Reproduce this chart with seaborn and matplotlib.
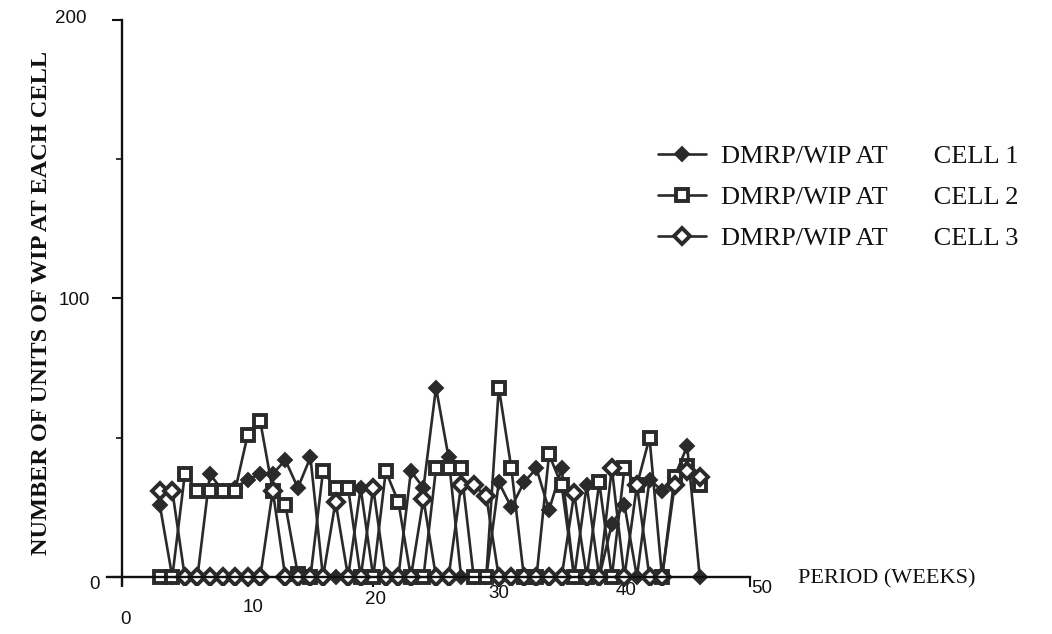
import numpy as np
import pandas as pd
import matplotlib
matplotlib.use("Agg")
import matplotlib.pyplot as plt
from matplotlib.transforms import ScaledTranslation
import seaborn as sns

# Weekly WIP counts for the three cells (DMRP policy)
weeks = list(range(3, 47))
cell1 = [26, 0, 0, 0, 37, 31, 32, 35, 37, 37,
         42, 32, 43, 0, 0, 0, 32, 0, 0, 0,
         38, 32, 68, 43, 0, 0, 0, 34, 25, 34,
         39, 24, 39, 0, 33, 0, 19, 26, 0, 35,
         31, 36, 47, 0]
cell2 = [0, 0, 37, 31, 31, 31, 31, 51, 56, 31,
         26, 1, 0, 38, 32, 32, 0, 0, 38, 27,
         0, 0, 39, 39, 39, 0, 0, 68, 39, 0,
         0, 44, 33, 0, 0, 34, 0, 39, 33, 50,
         0, 36, 40, 33]
cell3 = [31, 31, 0, 0, 0, 0, 0, 0, 0, 31,
         0, 0, 0, 0, 27, 0, 0, 32, 0, 0,
         0, 28, 0, 0, 33, 33, 29, 0, 0, 0,
         0, 0, 0, 30, 0, 0, 39, 0, 33, 0,
         0, 33, 38, 36]
series_labels = ["DMRP/WIP AT       CELL 1",
                 "DMRP/WIP AT       CELL 2",
                 "DMRP/WIP AT       CELL 3"]
x_ticks = [0, 10, 20, 30, 40, 50]
y_ticks = [0, 100, 200]

df = pd.DataFrame({
    "week": weeks * 3,
    "wip": cell1 + cell2 + cell3,
    "series": [series_labels[0]] * len(weeks)
              + [series_labels[1]] * len(weeks)
              + [series_labels[2]] * len(weeks),
})

sns.set_style("ticks")
plt.rcParams["font.family"] = ["Liberation Serif", "DejaVu Serif"]

ink = "#2a2a2a"
styles = {
    series_labels[0]: dict(marker="D", mfc=ink, mec=ink, mew=1.4, ms=7.5),
    series_labels[1]: dict(marker="s", mfc="white", mec=ink, mew=2.8, ms=8.5),
    series_labels[2]: dict(marker="D", mfc="white", mec=ink, mew=2.8, ms=8.0),
}

fig = plt.figure(figsize=(10.52, 6.34), dpi=100)
ax = fig.add_axes([0.1017, 0.0767, 0.6112, 0.8918])

for name in series_labels:
    sub = df[df["series"] == name]
    sns.lineplot(data=sub, x="week", y="wip", ax=ax, color=ink,
                 linewidth=1.9, legend=False, **styles[name])

for line, name in zip(ax.get_lines(), series_labels):
    line.set_label(name)

ax.set_xlim(-1.2, 50)
ax.set_ylim(-3, 200)
ax.spines["left"].set_position(("data", 0))
ax.spines["bottom"].set_position(("data", 0))
for side in ("top", "right"):
    ax.spines[side].set_visible(False)
for side in ("left", "bottom"):
    ax.spines[side].set_color("#111111")
    ax.spines[side].set_linewidth(1.7)

ax.set_xticks(x_ticks)
ax.set_xticklabels([str(t) for t in x_ticks])
ax.set_yticks(y_ticks)
ax.set_yticklabels([str(t) for t in y_ticks])
ax.set_yticks([50, 150], minor=True)
ax.tick_params(axis="both", which="major", direction="out", length=7,
               width=1.5, color="#111111", pad=0, labelsize=13.5,
               labelcolor="#111111")
ax.tick_params(axis="y", which="minor", direction="out", length=4,
               width=1.2, color="#111111")


def shift(artist, dx, dy):
    """Move a text artist by (dx, dy) pixels; positive dy moves it down."""
    artist.set_transform(artist.get_transform()
                         + ScaledTranslation(dx / fig.dpi, -dy / fig.dpi,
                                             fig.dpi_scale_trans))


# Staggered tick-label placement (pixel offsets)
x_off = [(3, 33), (5, 21), (2, 13), (0, 7), (2, 4), (12, 2)]
for lbl, (dx, dy) in zip(ax.get_xticklabels(), x_off):
    lbl.set_fontfamily(["Liberation Sans", "DejaVu Sans"])
    lbl.set_va("center")
    shift(lbl, dx, dy)
y_off = [(-13, 5), (-22, 0), (-26, -3)]
for lbl, (dx, dy) in zip(ax.get_yticklabels(), y_off):
    lbl.set_fontfamily(["Liberation Sans", "DejaVu Sans"])
    lbl.set_ha("right")
    shift(lbl, dx, dy)

ax.set_ylabel("NUMBER OF UNITS OF WIP AT EACH CELL", fontsize=17.5,
              fontweight="bold", color="#111111")
ax.yaxis.set_label_coords(-0.0853, 0.5)
ax.set_xlabel("PERIOD (WEEKS)", fontsize=16, color="#111111")
ax.xaxis.set_label_coords(1.212, 0.028)

handles = ax.get_lines()[:3]
fig.legend(handles, series_labels, loc="upper left",
           bbox_to_anchor=(658 / 1052, 1 - 145 / 634), frameon=False,
           fontsize=19, handlelength=1.8, handletextpad=0.6,
           labelspacing=0.66, borderpad=0, borderaxespad=0,
           labelcolor="#111111")

fig.savefig("out.png", dpi=100, facecolor="white")
